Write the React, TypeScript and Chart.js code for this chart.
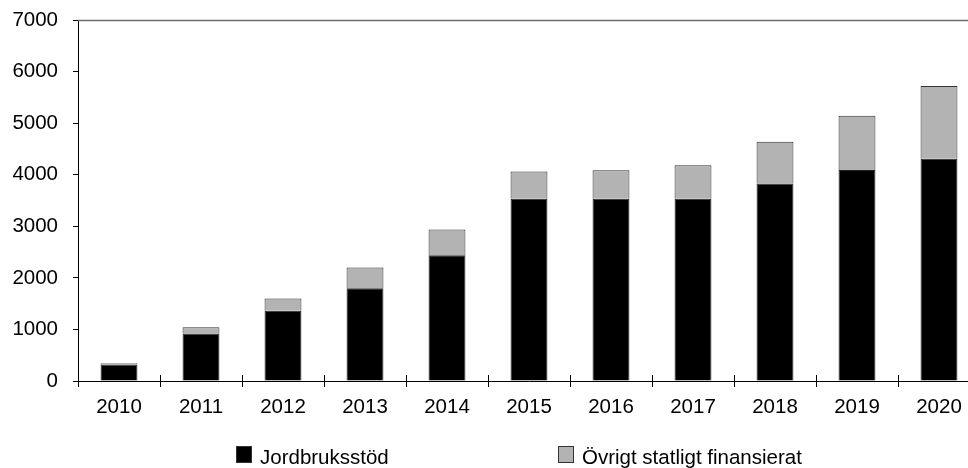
import React, { useEffect, useRef } from "react";
import { Chart, registerables } from "chart.js";

Chart.register(...registerables);

const categories = ["2010", "2011", "2012", "2013", "2014", "2015", "2016", "2017", "2018", "2019", "2020"];
const jordbruksstod = [320, 920, 1360, 1800, 2440, 3535, 3535, 3535, 3830, 4090, 4310];
const ovrigt = [25, 120, 240, 400, 500, 525, 550, 650, 810, 1055, 1410];
const seriesLabels = ["Jordbruksstöd", "Övrigt statligt finansierat"];
const yTicks = { min: 0, max: 7000, step: 1000 };

const FONT = "'Liberation Sans', Arial, Helvetica, sans-serif";
const FS = 20.5;

const decorPlugin = {
  id: "decor",
  afterDraw(chart: any) {
    const ctx = chart.ctx;
    const area = chart.chartArea;
    const x = chart.scales.x;
    ctx.save();
    // top border line
    ctx.strokeStyle = "#6e6e6e";
    ctx.lineWidth = 1.5;
    ctx.beginPath();
    ctx.moveTo(area.left, area.top + 0.5);
    ctx.lineTo(area.right, area.top + 0.5);
    ctx.stroke();
    // x-axis tick marks crossing the axis at category boundaries
    ctx.strokeStyle = "#000";
    ctx.lineWidth = 1;
    const n = chart.data.labels.length;
    const w = (area.right - area.left) / n;
    for (let i = 0; i <= n; i++) {
      const px = Math.round(x.left + i * w) + 0.5;
      ctx.beginPath();
      ctx.moveTo(px, area.bottom - 6);
      ctx.lineTo(px, area.bottom + 6);
      ctx.stroke();
    }
    // legend
    const items = [
      { x: 236, ds: chart.data.datasets[0] },
      { x: 558, ds: chart.data.datasets[1] },
    ];
    ctx.font = `${FS}px ${FONT}`;
    ctx.textBaseline = "alphabetic";
    ctx.textAlign = "left";
    for (const it of items) {
      ctx.fillStyle = it.ds.backgroundColor;
      ctx.fillRect(it.x, 446, 16, 17);
      ctx.strokeStyle = "#333";
      ctx.lineWidth = 1;
      ctx.strokeRect(it.x + 0.5, 446.5, 15, 16);
      ctx.fillStyle = "#000";
      ctx.fillText(it.ds.label, it.x + 24, 464);
    }
    ctx.restore();
  },
};

export default function App() {
  const ref = useRef<HTMLCanvasElement | null>(null);
  useEffect(() => {
    if (!ref.current) return;
    const chart = new Chart(ref.current, {
      type: "bar",
      data: {
        labels: categories,
        datasets: [
          {
            label: seriesLabels[0],
            data: jordbruksstod,
            backgroundColor: "#000000",
            borderColor: "#222222",
            borderWidth: 1,
            barPercentage: 0.45,
            categoryPercentage: 1,
          },
          {
            label: seriesLabels[1],
            data: ovrigt,
            backgroundColor: "#b3b3b3",
            borderColor: "#333333",
            borderWidth: 1,
            barPercentage: 0.45,
            categoryPercentage: 1,
          },
        ],
      },
      options: {
        animation: false,
        responsive: true,
        maintainAspectRatio: false,
        layout: { padding: { top: 20, right: 20, left: 0, bottom: 0 } },
        plugins: { legend: { display: false }, tooltip: { enabled: false } },
        scales: {
          x: {
            stacked: true,
            grid: { display: false, drawTicks: false },
            border: { display: true, color: "#000", width: 1 },
            ticks: { color: "#000", font: { family: FONT, size: FS }, padding: 14, maxRotation: 0 },
            afterFit(scale: any) {
              scale.height = 87;
              scale.paddingLeft = 0;
              scale.paddingRight = 0;
            },
          },
          y: {
            stacked: true,
            min: yTicks.min,
            max: yTicks.max,
            grid: { drawOnChartArea: false, drawTicks: true, tickLength: 5, color: "#000" },
            border: { display: true, color: "#000", width: 1 },
            ticks: {
              stepSize: yTicks.step,
              color: "#000",
              font: { family: FONT, size: FS },
              padding: 15,
              callback: (v: any) => String(v),
            },
            afterFit(scale: any) {
              scale.width = 78;
              scale.paddingTop = 0;
              scale.paddingBottom = 0;
            },
          },
        },
      },
      plugins: [decorPlugin],
    });
    return () => chart.destroy();
  }, []);
  return (
    <div style={{ position: "absolute", left: 0, top: 0, width: 968, height: 468, overflow: "hidden", background: "#fff" }}>
      <div style={{ position: "relative", width: 1000, height: 468 }}>
        <canvas ref={ref} />
      </div>
    </div>
  );
}
